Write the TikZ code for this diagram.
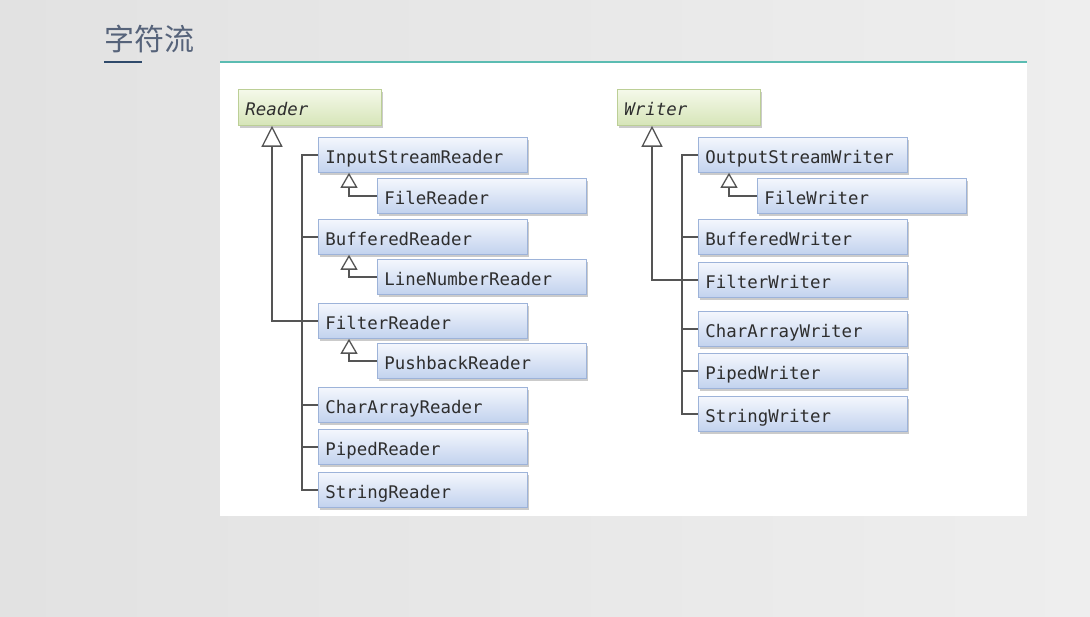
\documentclass[tikz,border=0pt]{standalone}
\usepackage{fontspec}
\newfontfamily\monof{DejaVu Sans Mono}
\newfontfamily\cjk{Noto Sans CJK SC}
\usetikzlibrary{arrows.meta,shadows}
\definecolor{boxborder}{HTML}{9DB3D9}
\definecolor{boxtop}{HTML}{F4F7FD}
\definecolor{boxbot}{HTML}{C2D2EE}
\definecolor{grborder}{HTML}{BCCF96}
\definecolor{grtop}{HTML}{F5F9EA}
\definecolor{grbot}{HTML}{D6E5B8}
\definecolor{txt}{HTML}{2E2E2E}
\definecolor{linec}{HTML}{555555}
\definecolor{titlec}{HTML}{56637A}
\definecolor{navy}{HTML}{2F4A6B}
\definecolor{tealc}{HTML}{5BBCB2}
\definecolor{bgl}{HTML}{E2E2E2}
\definecolor{bgr}{HTML}{EEEEEE}
\begin{document}
\begin{tikzpicture}[x=1pt,y=-1pt,
  cls/.style={draw=boxborder, line width=0.8pt, top color=boxtop, bottom color=boxbot,
    minimum height=35pt, text width=195pt, inner xsep=7pt, inner ysep=0pt, align=left,
    text height=16.5pt, text depth=0pt,
    font=\monof\fontsize{17.4}{20}\selectfont, text=txt, anchor=north west,
    drop shadow={shadow xshift=2pt, shadow yshift=-2.5pt, fill=black!40, opacity=0.5}},
  abscls/.style={cls, draw=grborder, top color=grtop, bottom color=grbot, text width=129pt,
    minimum height=36pt, font=\monof\itshape\fontsize{17.4}{20}\selectfont},
  ln/.style={draw=linec, line width=1.3pt},
  inh/.style={ln, -{Triangle[open, width=21pt, length=21pt, line width=1.3pt]}},
  subinh/.style={ln, -{Triangle[open, width=17pt, length=15pt, line width=1.3pt]}}]
\useasboundingbox (0,0) rectangle (1090,617);
\shade[left color=bgl, right color=bgr] (0,0) rectangle (1090,617);
\fill[white] (220,63) rectangle (1027,516);
\draw[tealc, line width=2pt] (220,62) -- (1027,62);
\node[font=\cjk\fontsize{30}{32}\selectfont, text=titlec, anchor=west, inner sep=0pt] (title) at (104,39) {字符流};
\draw[navy, line width=2pt] (104,62) -- (142,62);

% Reader hierarchy
\node[abscls] (Reader) at (238,89) {Reader};
\node[cls] (ISR) at (318,137) {InputStreamReader};
\node[cls] (FileReader) at (377,178) {FileReader};
\node[cls] (BufferedReader) at (318,219) {BufferedReader};
\node[cls] (LNR) at (377,259) {LineNumberReader};
\node[cls] (FilterReader) at (318,303) {FilterReader};
\node[cls] (PBR) at (377,343) {PushbackReader};
\node[cls] (CAR) at (318,387) {CharArrayReader};
\node[cls] (PipedReader) at (318,429) {PipedReader};
\node[cls] (StringReader) at (318,472) {StringReader};

\draw[ln] (ISR.west) -- ++(-16,0) |- (StringReader.west);
\foreach \n in {BufferedReader,CAR,PipedReader} \draw[ln] (\n.west) -- ++(-16,0);
\draw[inh] (FilterReader.west) -| ([xshift=34pt]Reader.south west);
\draw[subinh] (FileReader.west) -| ([xshift=31pt]ISR.south west);
\draw[subinh] (LNR.west) -| ([xshift=31pt]BufferedReader.south west);
\draw[subinh] (PBR.west) -| ([xshift=31pt]FilterReader.south west);

% Writer hierarchy
\node[abscls] (Writer) at (617,89) {Writer};
\node[cls] (OSW) at (698,137) {OutputStreamWriter};
\node[cls] (FileWriter) at (757,178) {FileWriter};
\node[cls] (BufferedWriter) at (698,219) {BufferedWriter};
\node[cls] (FilterWriter) at (698,262) {FilterWriter};
\node[cls] (CAW) at (698,311) {CharArrayWriter};
\node[cls] (PipedWriter) at (698,353) {PipedWriter};
\node[cls] (StringWriter) at (698,396) {StringWriter};

\draw[ln] (OSW.west) -- ++(-16,0) |- (StringWriter.west);
\foreach \n in {BufferedWriter,FilterWriter,CAW,PipedWriter} \draw[ln] (\n.west) -- ++(-16,0);
\draw[inh] (FilterWriter.west) -| ([xshift=35pt]Writer.south west);
\draw[subinh] (FileWriter.west) -| ([xshift=31pt]OSW.south west);
\end{tikzpicture}
\end{document}
